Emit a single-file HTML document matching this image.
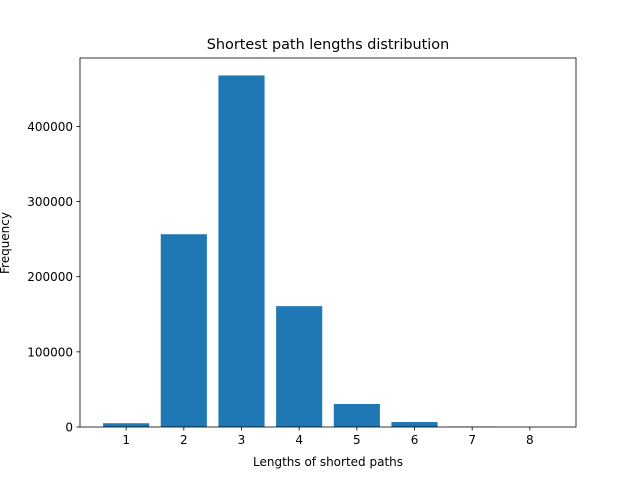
<!DOCTYPE html>
<html><head><meta charset="utf-8"><style>
body{margin:0;background:#fff;}
svg text{font-family:"DejaVu Sans","Liberation Sans",sans-serif;fill:#000;}
</style></head><body>
<svg id="chart" width="640" height="480" xmlns="http://www.w3.org/2000/svg">
<rect width="640" height="480" fill="#fff"/>
<text x="328" y="49" font-size="14.4" text-anchor="middle">Shortest path lengths distribution</text>
<g id="bars"></g>
<g id="axes"></g>
<text x="328" y="466" font-size="12" text-anchor="middle">Lengths of shorted paths</text>
<text x="0" y="0" font-size="12" text-anchor="middle" transform="translate(9,243) rotate(-90)">Frequency</text>
</svg>
<script>
const categories = [1,2,3,4,5,6,7,8];
const values = [5000,256500,467800,160800,30600,6600,500,50];
const yTicks = [0,100000,200000,300000,400000];
const yTickLabels = ["0","100000","200000","300000","400000"];

const L=80,R=576,T=58,B=427;
const xMin=0.2,xMax=8.8;
const yMax=491000;
function xs(v){return L+(v-xMin)/(xMax-xMin)*(R-L);}
function ys(v){return B-v/yMax*(B-T);}
const NS="http://www.w3.org/2000/svg";
const bars=document.getElementById('bars');
const axes=document.getElementById('axes');
function mk(tag,attrs,parent){const e=document.createElementNS(NS,tag);for(const k in attrs)e.setAttribute(k,attrs[k]);parent.appendChild(e);return e;}
categories.forEach((c,i)=>{
  const x0=xs(c-0.4),x1=xs(c+0.4),y=ys(values[i]);
  const r=mk('rect',{x:x0,y:y,width:x1-x0,height:B-y,fill:'#1f77b4'},bars);
  
  
  const t=mk('line',{x1:xs(c),x2:xs(c),y1:B,y2:B+3.5,stroke:'#000','stroke-width':0.8},axes);
  
  
  const l=mk('text',{x:xs(c),y:B+17,'font-size':12,'text-anchor':'middle'},axes);
  l.textContent=c;
  
  
});
yTicks.forEach((v,i)=>{
  const t=mk('line',{x1:L-3.5,x2:L,y1:ys(v),y2:ys(v),stroke:'#000','stroke-width':0.8},axes);
  
  
  const l=mk('text',{x:L-7,y:ys(v)+4.5,'font-size':12,'text-anchor':'end'},axes);
  l.textContent=yTickLabels[i];
  
  
});
const f=mk('rect',{x:L,y:T,width:R-L,height:B-T,fill:'none',stroke:'#000','stroke-width':0.8},axes);


</script>
</body></html>
